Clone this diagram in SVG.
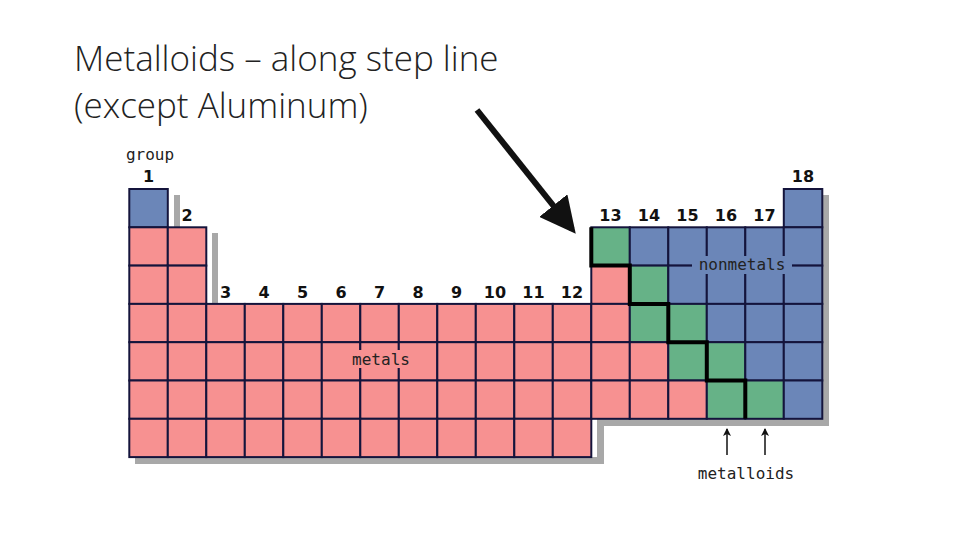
<svg xmlns="http://www.w3.org/2000/svg" width="960" height="540" viewBox="0 0 960 540">
<style>
.p{fill:#f79191}.b{fill:#6b86b8}.g{fill:#66b287}
.c{stroke:#14143c;stroke-width:2}
.n{font-family:"DejaVu Sans",sans-serif;font-size:16px;fill:#111;text-anchor:middle;font-weight:bold}
.l{font-family:"DejaVu Sans Mono",monospace;font-size:16px;fill:#222;text-anchor:middle}
.t{font-family:"Open Sans",sans-serif;font-weight:300;font-size:35px;fill:#222}
</style>
<defs>
<marker id="ah" markerWidth="6" markerHeight="6" refX="5" refY="3" orient="auto"><path d="M0,0L6,3L0,6z" fill="#111"/></marker>
<marker id="sa" markerWidth="8" markerHeight="10" refX="7" refY="5" orient="auto" markerUnits="userSpaceOnUse"><path d="M0,1L8,5L0,9L2,5z" fill="#111"/></marker>
</defs>
<g id="title">
<text class="t" x="74" y="71">Metalloids – along step line</text>
<text class="t" x="74" y="118">(except Aluminum)</text>
</g>
<g id="shadow" fill="#a8a8a8">
<rect x="174" y="195" width="6" height="38"/>
<rect x="212" y="233" width="6" height="77"/>
<rect x="135" y="457" width="464" height="7"/>
<rect x="597" y="419" width="7" height="45"/>
<rect x="597" y="419" width="232" height="7"/>
<rect x="822" y="195" width="7" height="231"/>
</g>
<g id="cells" class="c">
<!-- row1 -->
<rect class="b" x="129.3" y="189" width="38.5" height="38.3"/>
<rect class="b" x="783.8" y="189" width="38.5" height="38.3"/>
<!-- row2 -->
<rect class="p" x="129.3" y="227.3" width="38.5" height="38.3"/>
<rect class="p" x="167.8" y="227.3" width="38.5" height="38.3"/>
<rect class="g" x="591.3" y="227.3" width="38.5" height="38.3"/>
<rect class="b" x="629.8" y="227.3" width="38.5" height="38.3"/>
<rect class="b" x="668.3" y="227.3" width="38.5" height="38.3"/>
<rect class="b" x="706.8" y="227.3" width="38.5" height="38.3"/>
<rect class="b" x="745.3" y="227.3" width="38.5" height="38.3"/>
<rect class="b" x="783.8" y="227.3" width="38.5" height="38.3"/>
<!-- row3 -->
<rect class="p" x="129.3" y="265.6" width="38.5" height="38.3"/>
<rect class="p" x="167.8" y="265.6" width="38.5" height="38.3"/>
<rect class="p" x="591.3" y="265.6" width="38.5" height="38.3"/>
<rect class="g" x="629.8" y="265.6" width="38.5" height="38.3"/>
<rect class="b" x="668.3" y="265.6" width="38.5" height="38.3"/>
<rect class="b" x="706.8" y="265.6" width="38.5" height="38.3"/>
<rect class="b" x="745.3" y="265.6" width="38.5" height="38.3"/>
<rect class="b" x="783.8" y="265.6" width="38.5" height="38.3"/>
<!-- rows 4-7 pink block cols1-12 -->
<g class="p">
<rect x="129.3" y="303.9" width="38.5" height="38.3"/><rect x="167.8" y="303.9" width="38.5" height="38.3"/><rect x="206.3" y="303.9" width="38.5" height="38.3"/><rect x="244.8" y="303.9" width="38.5" height="38.3"/><rect x="283.3" y="303.9" width="38.5" height="38.3"/><rect x="321.8" y="303.9" width="38.5" height="38.3"/><rect x="360.3" y="303.9" width="38.5" height="38.3"/><rect x="398.8" y="303.9" width="38.5" height="38.3"/><rect x="437.3" y="303.9" width="38.5" height="38.3"/><rect x="475.8" y="303.9" width="38.5" height="38.3"/><rect x="514.3" y="303.9" width="38.5" height="38.3"/><rect x="552.8" y="303.9" width="38.5" height="38.3"/>
<rect x="129.3" y="342.2" width="38.5" height="38.3"/><rect x="167.8" y="342.2" width="38.5" height="38.3"/><rect x="206.3" y="342.2" width="38.5" height="38.3"/><rect x="244.8" y="342.2" width="38.5" height="38.3"/><rect x="283.3" y="342.2" width="38.5" height="38.3"/><rect x="321.8" y="342.2" width="38.5" height="38.3"/><rect x="360.3" y="342.2" width="38.5" height="38.3"/><rect x="398.8" y="342.2" width="38.5" height="38.3"/><rect x="437.3" y="342.2" width="38.5" height="38.3"/><rect x="475.8" y="342.2" width="38.5" height="38.3"/><rect x="514.3" y="342.2" width="38.5" height="38.3"/><rect x="552.8" y="342.2" width="38.5" height="38.3"/>
<rect x="129.3" y="380.5" width="38.5" height="38.3"/><rect x="167.8" y="380.5" width="38.5" height="38.3"/><rect x="206.3" y="380.5" width="38.5" height="38.3"/><rect x="244.8" y="380.5" width="38.5" height="38.3"/><rect x="283.3" y="380.5" width="38.5" height="38.3"/><rect x="321.8" y="380.5" width="38.5" height="38.3"/><rect x="360.3" y="380.5" width="38.5" height="38.3"/><rect x="398.8" y="380.5" width="38.5" height="38.3"/><rect x="437.3" y="380.5" width="38.5" height="38.3"/><rect x="475.8" y="380.5" width="38.5" height="38.3"/><rect x="514.3" y="380.5" width="38.5" height="38.3"/><rect x="552.8" y="380.5" width="38.5" height="38.3"/>
<rect x="129.3" y="418.8" width="38.5" height="38.3"/><rect x="167.8" y="418.8" width="38.5" height="38.3"/><rect x="206.3" y="418.8" width="38.5" height="38.3"/><rect x="244.8" y="418.8" width="38.5" height="38.3"/><rect x="283.3" y="418.8" width="38.5" height="38.3"/><rect x="321.8" y="418.8" width="38.5" height="38.3"/><rect x="360.3" y="418.8" width="38.5" height="38.3"/><rect x="398.8" y="418.8" width="38.5" height="38.3"/><rect x="437.3" y="418.8" width="38.5" height="38.3"/><rect x="475.8" y="418.8" width="38.5" height="38.3"/><rect x="514.3" y="418.8" width="38.5" height="38.3"/><rect x="552.8" y="418.8" width="38.5" height="38.3"/>
</g>
<!-- row4 right -->
<rect class="p" x="591.3" y="303.9" width="38.5" height="38.3"/>
<rect class="g" x="629.8" y="303.9" width="38.5" height="38.3"/>
<rect class="g" x="668.3" y="303.9" width="38.5" height="38.3"/>
<rect class="b" x="706.8" y="303.9" width="38.5" height="38.3"/>
<rect class="b" x="745.3" y="303.9" width="38.5" height="38.3"/>
<rect class="b" x="783.8" y="303.9" width="38.5" height="38.3"/>
<!-- row5 right -->
<rect class="p" x="591.3" y="342.2" width="38.5" height="38.3"/>
<rect class="p" x="629.8" y="342.2" width="38.5" height="38.3"/>
<rect class="g" x="668.3" y="342.2" width="38.5" height="38.3"/>
<rect class="g" x="706.8" y="342.2" width="38.5" height="38.3"/>
<rect class="b" x="745.3" y="342.2" width="38.5" height="38.3"/>
<rect class="b" x="783.8" y="342.2" width="38.5" height="38.3"/>
<!-- row6 right -->
<rect class="p" x="591.3" y="380.5" width="38.5" height="38.3"/>
<rect class="p" x="629.8" y="380.5" width="38.5" height="38.3"/>
<rect class="p" x="668.3" y="380.5" width="38.5" height="38.3"/>
<rect class="g" x="706.8" y="380.5" width="38.5" height="38.3"/>
<rect class="g" x="745.3" y="380.5" width="38.5" height="38.3"/>
<rect class="b" x="783.8" y="380.5" width="38.5" height="38.3"/>
</g>
<g id="stepline">
<path d="M591.3,227.3V265.6H629.8V303.9H668.3V342.2H706.8V380.5H745.3V418.8" fill="none" stroke="#000" stroke-width="4"/>
</g>
<g id="labels">
<rect class="b" x="692" y="256" width="100" height="18"/>
<text class="l" x="742" y="270">nonmetals</text>
<rect class="p" x="346" y="350" width="70" height="18"/>
<text class="l" x="381" y="365">metals</text>
<text class="l" x="150" y="160" font-size="15">group</text>
<text class="l" x="746" y="479">metalloids</text>
</g>
<g id="numbers" class="n">
<text x="148.5" y="182">1</text>
<text x="187" y="221">2</text>
<text x="225.5" y="298">3</text><text x="264" y="298">4</text><text x="302.5" y="298">5</text><text x="341" y="298">6</text><text x="379.5" y="298">7</text><text x="418" y="298">8</text><text x="456.5" y="298">9</text><text x="495" y="298">10</text><text x="533.5" y="298">11</text><text x="572" y="298">12</text>
<text x="610.5" y="221">13</text><text x="649" y="221">14</text><text x="687.5" y="221">15</text><text x="726" y="221">16</text><text x="764.5" y="221">17</text>
<text x="803" y="182">18</text>
</g>
<g id="connectors" stroke="#111" fill="none">
<line x1="727" y1="455" x2="727" y2="429" stroke-width="1.5" marker-end="url(#sa)"/>
<line x1="765" y1="455" x2="765" y2="429" stroke-width="1.5" marker-end="url(#sa)"/>
<line x1="477" y1="110" x2="572" y2="229" stroke-width="6" marker-end="url(#ah)"/>
</g>
</svg>
